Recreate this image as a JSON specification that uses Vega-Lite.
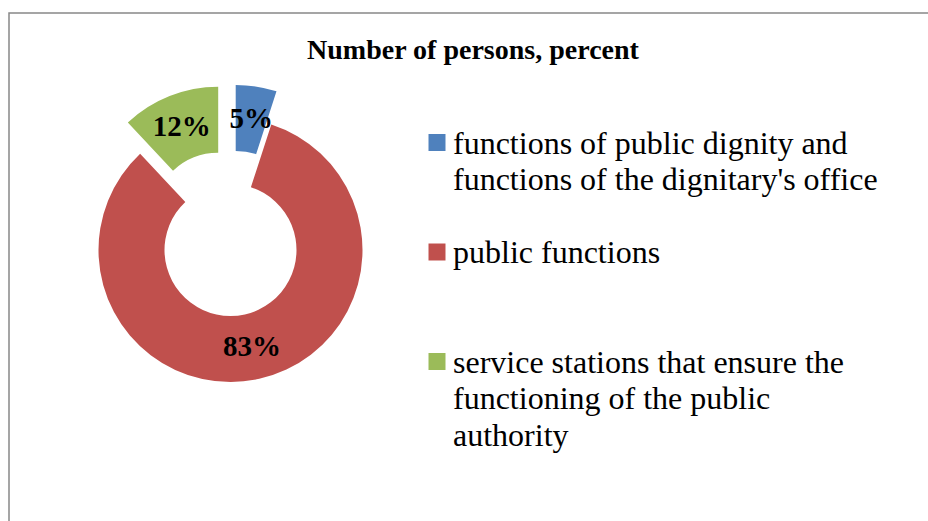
{
  "$schema": "https://vega.github.io/schema/vega-lite/v6.json",
  "width": 928,
  "height": 520,
  "autosize": {"type": "none"},
  "padding": {"left": 9, "top": 13, "right": 0, "bottom": 0},
  "background": "white",
  "view": {"stroke": "#888888", "strokeWidth": 1.5},
  "title": {
    "text": "Number of persons, percent",
    "font": "Liberation Serif",
    "fontSize": 28,
    "fontWeight": "bold",
    "color": "black",
    "anchor": "middle",
    "frame": "group",
    "baseline": "alphabetic",
    "offset": 0,
    "dy": 74
  },
  "config": {"view": {"stroke": "#888888", "strokeWidth": 1.5}},
  "data": {
    "values": [
      {"cat": "functions of public dignity and functions of the dignitary's office", "value": 5, "ord": 1, "pct": "5%"},
      {"cat": "public functions", "value": 83, "ord": 2, "pct": "83%"},
      {"cat": "service stations that ensure the functioning of the public authority", "value": 12, "ord": 3, "pct": "12%"}
    ]
  },
  "transform": [
    {"stack": "value", "groupby": [], "sort": [{"field": "ord", "order": "ascending"}], "as": ["v0", "v1"]}
  ],
  "layer": [
    {
      "transform": [{"filter": "datum.ord == 1"}],
      "mark": {"type": "arc", "x": 221.5, "y": 237, "innerRadius": 66, "outerRadius": 132, "xOffset": 5.2, "yOffset": -33.1},
      "encoding": {
        "theta": {"field": "v0", "type": "quantitative", "scale": {"domain": [0, 100]}},
        "theta2": {"field": "v1"},
        "color": {
          "field": "cat", "type": "nominal",
          "scale": {
            "domain": ["functions of public dignity and functions of the dignitary's office", "public functions", "service stations that ensure the functioning of the public authority"],
            "range": ["#4F81BD", "#C0504D", "#9BBB59"]
          },
          "legend": {
            "title": null, "orient": "none", "legendX": 412, "legendY": 113.5,
            "symbolType": "square", "symbolSize": 289, "symbolStrokeWidth": 0, "symbolOffset": 0,
            "labelFont": "Liberation Serif", "labelFontSize": 32, "labelColor": "black",
            "labelLimit": 1000, "labelOffset": 0, "labelBaseline": "alphabetic",
            "gridAlign": "all", "rowPadding": 3.5, "padding": 0,
            "labelExpr": "datum.label == 'public functions' ? datum.label : indexof(datum.label, 'dignity') > 0 ? ['functions of public dignity and', \"functions of the dignitary's office\"] : ['service stations that ensure the', 'functioning of the public', 'authority']",
            "encode": {"labels": {"update": {"dy": {"value": 11}, "lineHeight": {"value": 36.5}}}}
          }
        }
      }
    },
    {
      "transform": [{"filter": "datum.ord == 2"}],
      "mark": {"type": "arc", "x": 221.5, "y": 237, "innerRadius": 66, "outerRadius": 132},
      "encoding": {
        "theta": {"field": "v0", "type": "quantitative", "scale": {"domain": [0, 100]}},
        "theta2": {"field": "v1"},
        "color": {"field": "cat", "type": "nominal"}
      }
    },
    {
      "transform": [{"filter": "datum.ord == 3"}],
      "mark": {"type": "arc", "x": 221.5, "y": 237, "innerRadius": 66, "outerRadius": 132, "xOffset": -12.3, "yOffset": -31.2},
      "encoding": {
        "theta": {"field": "v0", "type": "quantitative", "scale": {"domain": [0, 100]}},
        "theta2": {"field": "v1"},
        "color": {"field": "cat", "type": "nominal"}
      }
    },
    {
      "mark": {"type": "text", "x": 221.5, "y": 237, "font": "Liberation Serif", "fontSize": 29, "fontWeight": "bold", "color": "black", "radius": {"expr": "datum.ord == 2 ? 99 : 132.5"}},
      "encoding": {
        "theta": {"field": "value", "type": "quantitative", "stack": true, "scale": {"domain": [0, 100]}},
        "order": {"field": "ord", "type": "quantitative"},
        "detail": {"field": "cat", "type": "nominal"},
        "text": {"field": "pct", "type": "nominal"}
      }
    }
  ]
}
